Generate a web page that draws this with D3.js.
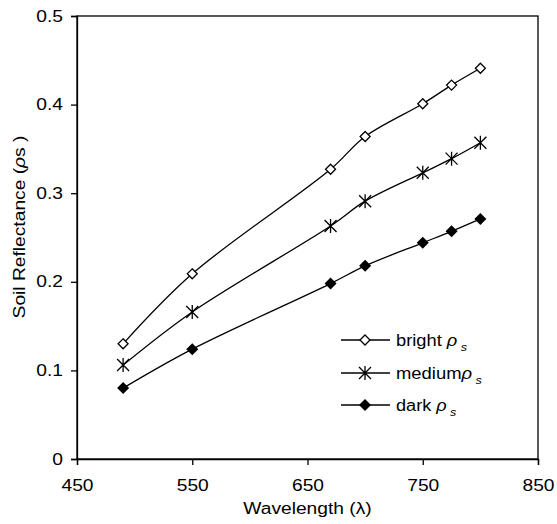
<!DOCTYPE html>
<html>
<head>
<meta charset="utf-8">
<script src="https://cdn.jsdelivr.net/npm/d3@7"></script>
<style>
  body { margin: 0; background: #fff; }
  text { font-family: "Liberation Sans", Arial, sans-serif; font-size: 16px; fill: #000; }
</style>
</head>
<body>
<div id="chart"></div>
<script>
// wavelengths (nm) and soil reflectance
var wavelengths = [490, 550, 670, 700, 750, 775, 800];
var bright = [0.130, 0.209, 0.327, 0.364, 0.401, 0.422, 0.441];
var medium = [0.106, 0.166, 0.263, 0.291, 0.323, 0.339, 0.357];
var dark   = [0.080, 0.124, 0.198, 0.218, 0.244, 0.257, 0.271];

var xTicks = [450, 550, 650, 750, 850];
var yTicks = [0, 0.1, 0.2, 0.3, 0.4, 0.5];

var seriesNames = ["bright ", "medium", "dark "];
var seriesData = [bright, medium, dark];
var seriesMarkers = ["openDiamond", "star", "filledDiamond"];

var width = 557, height = 524;

var svg = d3.select("#chart").append("svg")
    .attr("width", width)
    .attr("height", height);

var x = d3.scaleLinear().domain([450, 850]).range([77, 538]);
var y = d3.scaleLinear().domain([0, 0.5]).range([459, 16]);

// frame
svg.append("rect")
    .attr("x", x(450)).attr("y", y(0.5))
    .attr("width", x(850) - x(450))
    .attr("height", y(0) - y(0.5))
    .attr("fill", "none")
    .attr("stroke", "#000")
    .attr("stroke-width", 1.3);

// axes
var xAxis = svg.append("g")
    .attr("transform", "translate(0," + y(0) + ")")
    .call(d3.axisBottom(x).tickValues(xTicks).tickSize(6).tickPadding(15).tickFormat(d3.format("d")));
var yAxis = svg.append("g")
    .attr("transform", "translate(" + x(450) + ",0)")
    .call(d3.axisLeft(y).tickValues(yTicks).tickSize(6).tickPadding(8).tickFormat(function(d) { return d === 0 ? "0" : d3.format(".1f")(d); }));

[xAxis, yAxis].forEach(function(a) {
    a.select(".domain").attr("stroke-width", 1.3);
    a.selectAll(".tick line").attr("stroke-width", 1.3);
    a.selectAll(".tick text").attr("font-size", 16).attr("font-family", null);
});

// smoothed lines, like Excel
var line = d3.line()
    .x(function(d) { return x(d[0]); })
    .y(function(d) { return y(d[1]); })
    .curve(d3.curveCatmullRom.alpha(0.5));

function drawMarker(g, type, cx, cy) {
    if (type === "openDiamond") {
        g.append("path")
            .attr("d", "M" + cx + "," + (cy - 5) + "L" + (cx + 5) + "," + cy + "L" + cx + "," + (cy + 5) + "L" + (cx - 5) + "," + cy + "Z")
            .attr("fill", "#fff").attr("stroke", "#000").attr("stroke-width", 1.3);
    } else if (type === "filledDiamond") {
        g.append("path")
            .attr("d", "M" + cx + "," + (cy - 6) + "L" + (cx + 6) + "," + cy + "L" + cx + "," + (cy + 6) + "L" + (cx - 6) + "," + cy + "Z")
            .attr("fill", "#000");
    } else {
        var r = 6;
        g.append("path")
            .attr("d", "M" + (cx - r) + "," + (cy - r) + "L" + (cx + r) + "," + (cy + r) +
                       "M" + (cx - r) + "," + (cy + r) + "L" + (cx + r) + "," + (cy - r) +
                       "M" + cx + "," + (cy - r - 1) + "L" + cx + "," + (cy + r + 1))
            .attr("stroke", "#000").attr("stroke-width", 1.3).attr("fill", "none");
    }
}

seriesData.forEach(function(vals, i) {
    var pts = wavelengths.map(function(w, j) { return [w, vals[j]]; });
    var g = svg.append("g");
    g.append("path")
        .attr("d", line(pts))
        .attr("fill", "none")
        .attr("stroke", "#000")
        .attr("stroke-width", 1.3);
    pts.forEach(function(p) { drawMarker(g, seriesMarkers[i], x(p[0]), y(p[1])); });
});

// legend
var legendY = [340, 373, 405];
seriesNames.forEach(function(name, i) {
    var g = svg.append("g");
    g.append("line")
        .attr("x1", 341).attr("x2", 390)
        .attr("y1", legendY[i]).attr("y2", legendY[i])
        .attr("stroke", "#000").attr("stroke-width", 1.3);
    drawMarker(g, seriesMarkers[i], 365, legendY[i]);
    var t = g.append("text")
        .attr("x", 396).attr("y", legendY[i] + 6);
    t.append("tspan").text(name);
    t.append("tspan").attr("font-style", "italic").text("ρ");
    t.append("tspan").attr("font-size", 11).attr("font-style", "italic").attr("dx", 3).attr("dy", 5).text("s");
});

// axis titles
svg.append("text")
    .attr("x", x(650)).attr("y", 514)
    .attr("text-anchor", "middle")
    .text("Wavelength (λ)");

var yl = svg.append("text")
    .attr("transform", "translate(25,227) rotate(-90)")
    .attr("text-anchor", "middle");
yl.append("tspan").text("Soil Reflectance (");
yl.append("tspan").attr("font-style", "italic").text("ρ");
yl.append("tspan").text("s )");

// the figure's lettering is a little wider than Arial
svg.selectAll("text").each(function() {
    var w = this.getComputedTextLength();
    d3.select(this).attr("textLength", w * 1.2).attr("lengthAdjust", "spacingAndGlyphs");
});
</script>
</body>
</html>
